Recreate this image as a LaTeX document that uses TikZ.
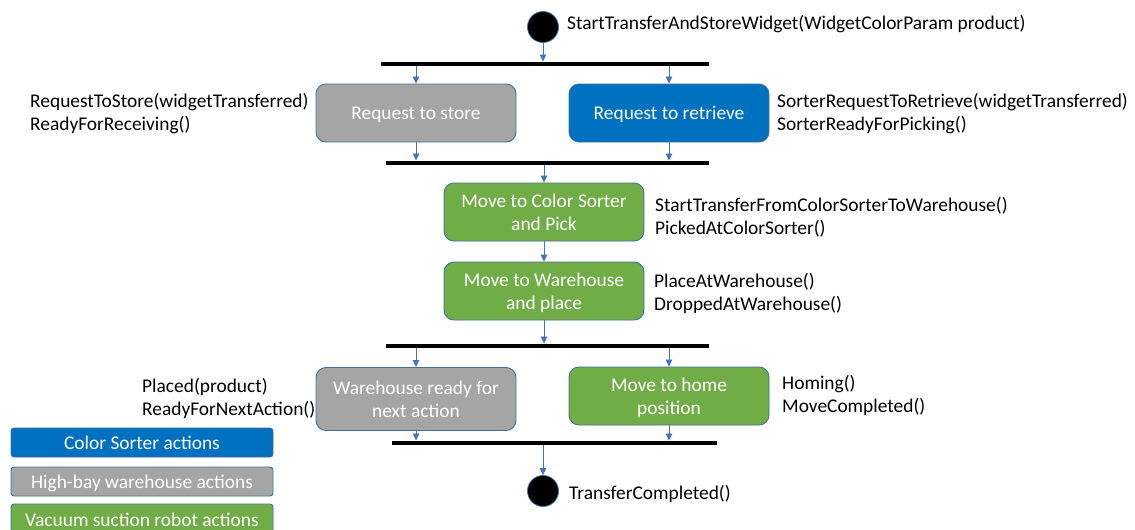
\documentclass[tikz,border=0pt]{standalone}
\usepackage{fontspec}
\setmainfont{Carlito}
\usetikzlibrary{arrows.meta}

\definecolor{sorterblue}{HTML}{0070C0}
\definecolor{hbwgray}{HTML}{A5A5A5}
\definecolor{vgrgreen}{HTML}{70AD47}
\definecolor{edgeblue}{HTML}{4472C4}
\definecolor{rimblue}{HTML}{41719C}

\newcommand{\lblfont}{\fontsize{19.4}{23.6}\selectfont}
% invisible strut giving first and last lines a fixed height and depth
\newcommand{\linestrut}{\rule[-4.85pt]{0pt}{23.65pt}}

\tikzset{
  linebox/.style={execute at begin node=\linestrut, execute at end node=\linestrut},
  action/.style={draw=rimblue, line width=0.9pt, rounded corners=10pt,
    minimum width=200pt, minimum height=58pt, text=white, align=center,
    font=\lblfont, inner sep=0pt, linebox},
  sorter/.style={action, fill=sorterblue},
  warehouse/.style={action, fill=hbwgray},
  robot/.style={action, fill=vgrgreen},
  legendbox/.style={draw=rimblue, line width=0.9pt, rounded corners=3pt,
    minimum width=262pt, minimum height=29pt, text=white, font=\lblfont,
    inner sep=0pt, linebox},
  syncbar/.style={fill=black, inner sep=0pt, minimum height=4.5pt},
  terminal/.style={circle, fill=black, draw=rimblue, line width=0.8pt,
    minimum size=31pt, inner sep=0pt},
  flow/.style={draw=edgeblue, line width=0.8pt,
    -{Triangle[length=7pt,width=6.5pt]}},
  note/.style={align=left, anchor=west, font=\lblfont, inner sep=0pt, linebox},
}

\begin{document}
\begin{tikzpicture}[x=1pt, y=-1pt]
\useasboundingbox (0,0) rectangle (1135,530);

% initial node and first fork
\node[terminal] (start) at (543,27) {};
\node[note] (startlbl) at (567,23) {StartTransferAndStoreWidget(WidgetColorParam product)};
\node[syncbar, minimum width=328pt] (bar1) at (545,64) {};

% parallel requests
\node[warehouse] (store) at (416,113) {Request to store};
\node[sorter] (retrieve) at (669,113) {Request to retrieve};
\node[note] (storelbl) at (30,112) {\linestrut RequestToStore(widgetTransferred)\\ReadyForReceiving()};
\node[note] (retrievelbl) at (777,112) {\linestrut SorterRequestToRetrieve(widgetTransferred)\\SorterReadyForPicking()};

\node[syncbar, minimum width=323pt] (bar2) at (547.5,163) {};

% robot transfer
\node[robot] (pick) at (544,212) {\linestrut Move to Color Sorter\\and Pick};
\node[note] (picklbl) at (655,216) {\linestrut StartTransferFromColorSorterToWarehouse()\\PickedAtColorSorter()};
\node[robot] (place) at (544,291) {\linestrut Move to Warehouse\\and place};
\node[note] (placelbl) at (654,292) {\linestrut PlaceAtWarehouse()\\DroppedAtWarehouse()};

\node[syncbar, minimum width=323pt] (bar3) at (547.5,346) {};

% parallel completion
\node[warehouse, minimum height=63pt] (wready) at (416,399) {\linestrut Warehouse ready for\\next action};
\node[robot] (home) at (669,396) {\linestrut Move to home\\position};
\node[note] (wreadylbl) at (142,397) {\linestrut Placed(product)\\ReadyForNextAction()};
\node[note] (homelbl) at (782,394) {\linestrut Homing()\\MoveCompleted()};

\node[syncbar, minimum width=325pt] (bar4) at (554.5,443) {};

% final node
\node[terminal] (end) at (543,491) {};
\node[note] (endlbl) at (569,493) {TransferCompleted()};

% legend
\node[legendbox, fill=sorterblue] (lgsorter) at (142,442.5) {Color Sorter actions};
\node[legendbox, fill=hbwgray] (lgwarehouse) at (142,481.5) {High-bay warehouse actions};
\node[legendbox, fill=vgrgreen, minimum height=32pt] (lgrobot) at (142,520) {Vacuum suction robot actions};

% control flow
\draw[flow] (start) -- (start |- bar1.north);
\draw[flow] (store.north |- bar1.south) -- (store.north);
\draw[flow] (retrieve.north |- bar1.south) -- (retrieve.north);
\draw[flow] (store.south) -- (store.south |- bar2.north);
\draw[flow] (retrieve.south) -- (retrieve.south |- bar2.north);
\draw[flow] (pick.north |- bar2.south) -- (pick.north);
\draw[flow] (pick.south) -- (place.north);
\draw[flow] (place.south) -- (place.south |- bar3.north);
\draw[flow] (wready.north |- bar3.south) -- (wready.north);
\draw[flow] (home.north |- bar3.south) -- (home.north);
\draw[flow] (wready.south) -- (wready.south |- bar4.north);
\draw[flow] (home.south) -- (home.south |- bar4.north);
\draw[flow] (end |- bar4.south) -- (end.north);
\end{tikzpicture}
\end{document}
